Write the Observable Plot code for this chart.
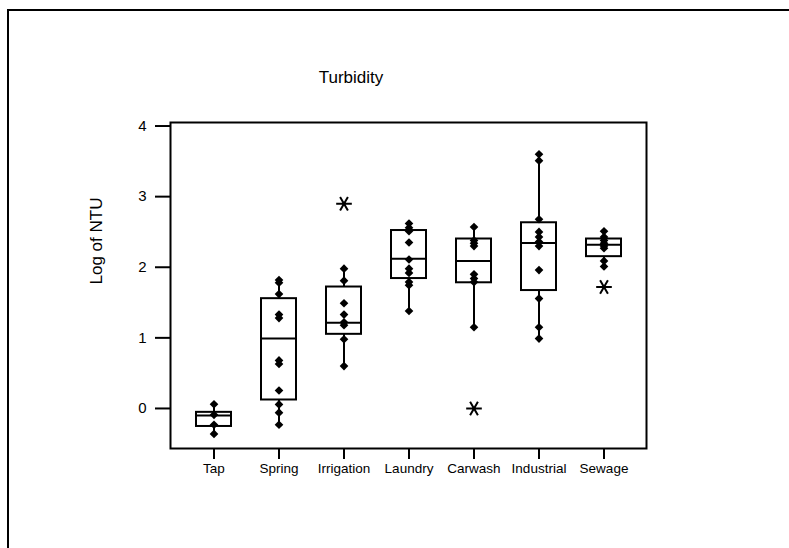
<!DOCTYPE html>
<html>
<head>
<meta charset="utf-8">
<script src="https://cdn.jsdelivr.net/npm/d3@7"></script>
<script src="https://cdn.jsdelivr.net/npm/@observablehq/plot@0.6"></script>
<style>
  html, body { margin: 0; padding: 0; background: #fff; overflow: hidden; }
  #wrap { position: relative; width: 789px; height: 548px; font-family: "Liberation Sans", Arial, sans-serif; }
  #border { position: absolute; left: 7px; top: 9px; width: 1000px; height: 1000px; border-top: 2px solid #000; border-left: 2px solid #000; }
  #title { position: absolute; left: 251px; width: 200px; top: 68px; text-align: center; font-size: 17px; color: #000; }
  #ylabel { position: absolute; left: 97px; top: 241px; transform: translate(-50%, -50%) rotate(-90deg); font-size: 17px; white-space: nowrap; color: #000; }
  #chart { position: absolute; left: 0; top: 0; }
</style>
</head>
<body>
<div id="wrap">
  <div id="border"></div>
  <div id="chart"></div>
  <div id="title">Turbidity</div>
  <div id="ylabel">Log of NTU</div>
</div>
<script>
// Categories
const categories = ["Tap", "Spring", "Irrigation", "Laundry", "Carwash", "Industrial", "Sewage"];

// Box summaries
const q1      = [-0.255, 0.12, 1.05, 1.84, 1.78, 1.67, 2.15];
const median  = [-0.10, 0.99, 1.215, 2.12, 2.09, 2.345, 2.32];
const q3      = [-0.055, 1.555, 1.72, 2.52, 2.40, 2.63, 2.40];
const whiskLo = [-0.36, -0.23, 0.60, 1.38, 1.15, 0.99, 2.01];
const whiskHi = [0.06, 1.82, 1.98, 2.62, 2.57, 3.60, 2.51];

// Individual observations (diamonds)
const tapPts        = [0.06, -0.09, -0.23, -0.36];
const springPts     = [1.82, 1.78, 1.62, 1.33, 1.28, 0.68, 0.63, 0.255, 0.057, -0.06, -0.23];
const irrigationPts = [1.98, 1.81, 1.49, 1.33, 1.22, 1.18, 0.98, 0.60];
const laundryPts    = [2.62, 2.56, 2.51, 2.35, 2.11, 1.98, 1.92, 1.79, 1.745, 1.38];
const carwashPts    = [2.57, 2.38, 2.34, 2.30, 1.90, 1.84, 1.79, 1.15];
const industrialPts = [3.60, 3.51, 2.68, 2.50, 2.43, 2.36, 2.30, 1.96, 1.556, 1.15, 0.99];
const sewagePts     = [2.51, 2.43, 2.38, 2.34, 2.30, 2.27, 2.09, 2.01];

// Outliers (asterisks)
const outlierCat = ["Irrigation", "Carwash", "Sewage"];
const outlierVal = [2.90, 0.0, 1.72];

// Y ticks
const yTicks = [0, 1, 2, 3, 4];

// Build tables
const boxes = categories.map((c, i) => ({cat: c, q1: q1[i], med: median[i], q3: q3[i], lo: whiskLo[i], hi: whiskHi[i]}));
const ptLists = [tapPts, springPts, irrigationPts, laundryPts, carwashPts, industrialPts, sewagePts];
const points = ptLists.flatMap((arr, i) => arr.map(v => ({cat: categories[i], v})));
const outliers = outlierCat.map((c, i) => ({cat: c, v: outlierVal[i]}));

const chart = Plot.plot({
  width: 789,
  height: 548,
  marginLeft: 170,
  marginRight: 143,
  marginTop: 122,
  marginBottom: 100,
  style: {fontFamily: "'Liberation Sans', Arial, sans-serif", fontSize: "14px", background: "transparent", color: "#000"},
  x: {domain: categories, type: "band", paddingInner: 0.467, paddingOuter: 0.358, label: null},
  y: {domain: [-0.567, 4.05], label: null},
  marks: [
    Plot.axisY({ticks: yTicks, tickSize: 15, tickPadding: 9, tickFormat: d => String(d), fontSize: 15, strokeWidth: 2, label: null}),
    Plot.axisX({tickSize: 11, tickPadding: 4, fontSize: 13.5, strokeWidth: 2, label: null}),
    Plot.ruleX(boxes, {x: "cat", y1: "lo", y2: "hi", stroke: "#000", strokeWidth: 2}),
    Plot.barY(boxes, {x: "cat", y1: "q1", y2: "q3", fill: "#fff", stroke: "#000", strokeWidth: 2}),
    Plot.tickY(boxes, {x: "cat", y: "med", stroke: "#000", strokeWidth: 2}),
    Plot.dot(points, {x: "cat", y: "v", symbol: "diamond2", r: 3.9, fill: "#000", stroke: "none"}),
    Plot.dot(outliers, {x: "cat", y: "v", symbol: "asterisk", r: 7.4, rotate: 90, stroke: "#000", strokeWidth: 2}),
    Plot.frame({stroke: "#000", strokeWidth: 2})
  ]
});
document.getElementById("chart").appendChild(chart);
</script>
</body>
</html>
